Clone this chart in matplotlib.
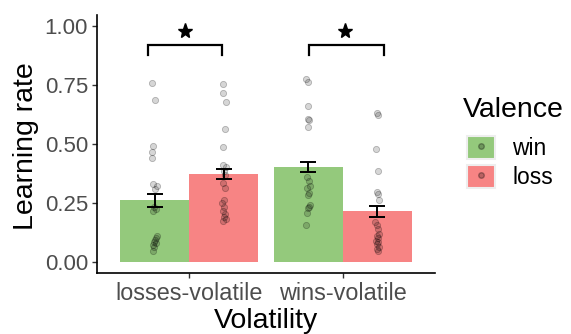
import matplotlib
matplotlib.use("Agg")
import matplotlib.pyplot as plt
from matplotlib.patches import Patch
from matplotlib.lines import Line2D

plt.rcParams['font.family'] = ['Liberation Sans', 'DejaVu Sans']

# ---- data ----
categories = ["losses-volatile", "wins-volatile"]
valences = ["win", "loss"]
bar_colors = {"win": "#94c97c", "loss": "#f78484"}

means_win = [0.261, 0.401]
means_loss = [0.373, 0.214]
se_win = [0.026, 0.021]
se_loss = [0.020, 0.023]

pts_lv_win = [0.757, 0.688, 0.491, 0.465, 0.440, 0.330, 0.320, 0.310, 0.235,
              0.225, 0.214, 0.108, 0.100, 0.094, 0.085, 0.080, 0.070, 0.065, 0.048]
jit_lv_win = [-0.018, 0.000, -0.013, -0.018, -0.018, -0.008, 0.012, 0.004, -0.004,
              0.006, -0.010, 0.014, 0.008, 0.002, -0.004, 0.010, -0.014, -0.004, -0.010]
pts_lv_loss = [0.753, 0.715, 0.680, 0.562, 0.488, 0.413, 0.403, 0.385, 0.370, 0.335,
               0.315, 0.264, 0.250, 0.235, 0.214, 0.204, 0.190, 0.180, 0.172]
jit_lv_loss = [-0.008, -0.004, 0.012, 0.006, -0.004, -0.004, 0.014, 0.002, 0.010, -0.006,
               0.008, 0.004, -0.010, 0.004, -0.008, 0.010, 0.000, 0.014, -0.006]
pts_wv_win = [0.774, 0.763, 0.661, 0.604, 0.600, 0.572, 0.359, 0.342, 0.320, 0.313,
              0.292, 0.285, 0.243, 0.235, 0.228, 0.207, 0.157]
jit_wv_win = [-0.012, 0.000, -0.004, -0.002, 0.002, -0.002, -0.006, 0.004, 0.014, -0.008,
              0.004, -0.002, 0.008, 0.002, -0.004, -0.010, -0.016]
pts_wv_loss = [0.630, 0.623, 0.477, 0.384, 0.295, 0.288, 0.261, 0.170, 0.155, 0.140,
               0.120, 0.110, 0.100, 0.090, 0.085, 0.075, 0.065, 0.055, 0.045]
jit_wv_loss = [-0.006, 0.006, -0.010, 0.002, -0.004, 0.006, 0.010, -0.014, -0.006, 0.002,
               0.010, -0.002, 0.006, -0.010, 0.004, -0.004, 0.008, -0.002, 0.002]

brackets = [(0.73, 1.21), (1.78, 2.27)]
bracket_y = 0.919
bracket_leg = 0.878
star_x = [0.97, 2.015]
star_y = 0.98

ylim = (-0.047, 1.047)
xlim = (0.4, 2.6)
yticks = [0.0, 0.25, 0.5, 0.75, 1.0]
ytick_labels = ["0.00", "0.25", "0.50", "0.75", "1.00"]

# ---- figure ----
fig = plt.figure(figsize=(5.71, 3.34), dpi=100)
ax = fig.add_axes([0.170, 0.1826, 0.592, 0.7725])

bw = 0.45
xpos = [1, 2]
ax.bar([x - bw / 2 for x in xpos], means_win, width=bw, color=bar_colors["win"], zorder=1)
ax.bar([x + bw / 2 for x in xpos], means_loss, width=bw, color=bar_colors["loss"], zorder=1)

pt_kw = dict(s=20, facecolor=(0, 0, 0, 0.16), edgecolor=(0, 0, 0, 0.26), linewidth=0.6, zorder=3)
groups = [
    (1 - bw / 2, pts_lv_win, jit_lv_win),
    (1 + bw / 2, pts_lv_loss, jit_lv_loss),
    (2 - bw / 2, pts_wv_win, jit_wv_win),
    (2 + bw / 2, pts_wv_loss, jit_wv_loss),
]
for cx, vals, jit in groups:
    ax.scatter([cx + j for j in jit], vals, **pt_kw)

ax.errorbar([x - bw / 2 for x in xpos], means_win, yerr=se_win, fmt='none',
            ecolor='black', elinewidth=1.4, capsize=5.5, capthick=1.4, zorder=4)
ax.errorbar([x + bw / 2 for x in xpos], means_loss, yerr=se_loss, fmt='none',
            ecolor='black', elinewidth=1.4, capsize=5.5, capthick=1.4, zorder=4)

for (x0, x1), sx in zip(brackets, star_x):
    ax.plot([x0, x0, x1, x1], [bracket_leg, bracket_y, bracket_y, bracket_leg],
            color='black', lw=1.6, solid_joinstyle='miter', clip_on=False, zorder=5)
    ax.plot([sx], [star_y], marker='*', color='black', markersize=11, clip_on=False, zorder=5)

ax.set_xlim(*xlim)
ax.set_ylim(*ylim)
ax.set_xticks(xpos)
ax.set_xticklabels(categories, fontsize=16.8)
ax.set_yticks(yticks)
ax.set_yticklabels(ytick_labels, fontsize=16)
for s in ['top', 'right']:
    ax.spines[s].set_visible(False)
for s in ['left', 'bottom']:
    ax.spines[s].set_linewidth(1.2)
    ax.spines[s].set_color('black')
ax.tick_params(axis='both', length=3.5, width=1.0, color='#333333',
               labelcolor='#4d4d4d', pad=3)

ax.set_ylabel("Learning rate", fontsize=20.5, color='black', va='center')
ax.yaxis.set_label_coords(-0.21, 0.49)
ax.set_xlabel("Volatility", fontsize=20.5, color='black', va='baseline')
ax.xaxis.set_label_coords(0.5, -0.212)

fig.text(463 / 571, 1 - 117 / 334, "Valence", fontsize=20.5, color='black',
         ha='left', va='baseline')

handles = []
for v in valences:
    p = Patch(facecolor=bar_colors[v], edgecolor='#eeeeee', linewidth=1.5)
    m = Line2D([], [], marker='o', linestyle='none', markersize=4,
               markerfacecolor=(0, 0, 0, 0.25), markeredgecolor=(0, 0, 0, 0.3))
    handles.append((p, m))
leg = fig.legend(handles, valences, loc='upper left',
                 bbox_to_anchor=(467 / 571, 1 - 136 / 334), frameon=False,
                 fontsize=16.5, handlelength=1.22,
                 handleheight=1.15, labelspacing=0.22, handletextpad=0.75,
                 borderpad=0, borderaxespad=0)

fig.savefig("out.png", dpi=100)
